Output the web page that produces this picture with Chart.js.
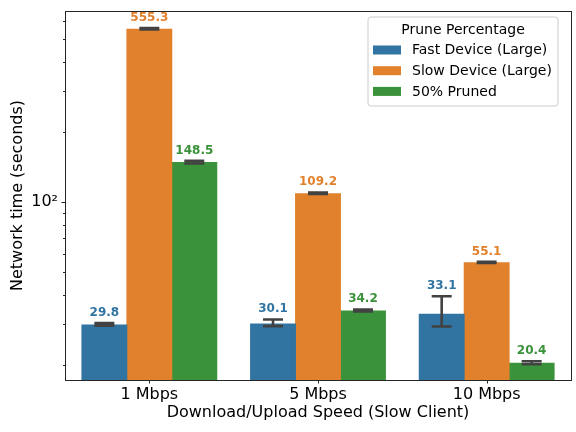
<!DOCTYPE html>
<html><head><meta charset="utf-8">
<script src="https://cdn.jsdelivr.net/npm/chart.js@4"></script>
<style>html,body{margin:0;padding:0;background:#fff}#wrap{width:576px;height:432px}</style>
</head><body><div id="wrap"><canvas id="c" width="576" height="432"></canvas></div>
<script>
const categories = ['1 Mbps', '5 Mbps', '10 Mbps'];
const seriesNames = ['Fast Device (Large)', 'Slow Device (Large)', '50% Pruned'];
const fastVals = [29.8, 30.1, 33.1];
const slowVals = [555.3, 109.2, 55.1];
const prunedVals = [148.5, 34.2, 20.4];
const fastErrLow = [29.4, 29.3, 29.2];
const fastErrHigh = [30.2, 31.3, 39.4];
const slowErrLow = [551.0, 108.4, 54.8];
const slowErrHigh = [559.5, 110.0, 55.4];
const prunedErrLow = [146.5, 33.9, 20.1];
const prunedErrHigh = [150.5, 34.5, 20.7];
const yTickValues = [20,30,40,50,60,70,80,90,100,200,300,400,500,600];
const colors = ['#3274A1', '#E1812C', '#3A923A'];

const FONT = "'DejaVu Sans', sans-serif";
const errLow = [fastErrLow, slowErrLow, prunedErrLow];
const errHigh = [fastErrHigh, slowErrHigh, prunedErrHigh];
const values = [fastVals, slowVals, prunedVals];

const overlay = {
  id: 'overlay',
  afterDatasetsDraw(chart) {
    const ctx = chart.ctx, y = chart.scales.y, x = chart.scales.x, a = chart.chartArea;
    ctx.save();
    ctx.strokeStyle = '#424242'; ctx.lineWidth = 2.6; ctx.lineCap = 'butt';
    for (let i = 0; i < 3; i++) {
      const meta = chart.getDatasetMeta(i);
      meta.data.forEach((el, j) => {
        const yl = y.getPixelForValue(errLow[i][j]);
        const yh = y.getPixelForValue(errHigh[i][j]);
        ctx.beginPath();
        ctx.moveTo(el.x, yl); ctx.lineTo(el.x, yh);
        ctx.moveTo(el.x - 10, yl); ctx.lineTo(el.x + 10, yl);
        ctx.moveTo(el.x - 10, yh); ctx.lineTo(el.x + 10, yh);
        ctx.stroke();
      });
    }
    ctx.font = 'bold 12px ' + FONT;
    ctx.textAlign = 'center'; ctx.textBaseline = 'bottom';
    for (let i = 0; i < 3; i++) {
      const meta = chart.getDatasetMeta(i);
      meta.data.forEach((el, j) => {
        const top = Math.min(el.y, y.getPixelForValue(errHigh[i][j]) - 1.3);
        ctx.fillStyle = colors[i];
        ctx.fillText(values[i][j].toFixed(1), el.x, top - 3);
      });
    }
    ctx.strokeStyle = '#262626'; ctx.lineWidth = 1;
    ctx.strokeRect(Math.round(a.left) + 0.5, Math.round(a.top) + 0.5, Math.round(a.right - a.left), Math.round(a.bottom - a.top));
    ctx.beginPath();
    yTickValues.forEach(v => {
      const py = Math.round(y.getPixelForValue(v)) + 0.5;
      const len = v === 100 ? 3.5 : 2;
      ctx.moveTo(a.left, py); ctx.lineTo(a.left - len, py);
    });
    categories.forEach((c, j) => {
      const px = Math.round(x.getPixelForValue(j)) + 0.5;
      ctx.moveTo(px, a.bottom); ctx.lineTo(px, a.bottom + 3.5);
    });
    ctx.stroke();
    const lx = 368, ly = 17, lw = 190, lh = 89, r = 3;
    ctx.beginPath();
    ctx.moveTo(lx + r, ly); ctx.lineTo(lx + lw - r, ly); ctx.arcTo(lx + lw, ly, lx + lw, ly + r, r);
    ctx.lineTo(lx + lw, ly + lh - r); ctx.arcTo(lx + lw, ly + lh, lx + lw - r, ly + lh, r);
    ctx.lineTo(lx + r, ly + lh); ctx.arcTo(lx, ly + lh, lx, ly + lh - r, r);
    ctx.lineTo(lx, ly + r); ctx.arcTo(lx, ly, lx + r, ly, r);
    ctx.closePath();
    ctx.fillStyle = 'rgba(255,255,255,0.8)'; ctx.fill();
    ctx.strokeStyle = '#cccccc'; ctx.lineWidth = 1; ctx.stroke();
    ctx.font = '14px ' + FONT;
    ctx.fillStyle = '#000'; ctx.textAlign = 'center'; ctx.textBaseline = 'middle';
    ctx.fillText('Prune Percentage', lx + lw / 2, 30);
    ctx.textAlign = 'left';
    seriesNames.forEach((n, i) => {
      const cy = 50 + i * 20.7;
      ctx.fillStyle = colors[i];
      ctx.fillRect(373, cy - 4.5, 28, 9);
      ctx.fillStyle = '#000';
      ctx.fillText(n, 412, cy + 0.5);
    });
    ctx.restore();
  }
};

new Chart(document.getElementById('c'), {
  type: 'bar',
  data: {
    labels: categories,
    datasets: seriesNames.map((n, i) => ({
      label: n, data: values[i], backgroundColor: colors[i], borderWidth: 0,
      inflateAmount: 0, categoryPercentage: 0.8, barPercentage: 1.02
    }))
  },
  options: {
    responsive: false, animation: false, devicePixelRatio: 1,
    layout: { padding: { top: 11, right: 5, left: 0, bottom: 0 } },
    plugins: { legend: { display: false }, tooltip: { enabled: false } },
    scales: {
      x: {
        grid: { display: false, drawTicks: false },
        border: { display: false },
        ticks: { color: '#000', font: { family: FONT, size: 16 }, padding: 5 },
        title: { display: true, text: 'Download/Upload Speed (Slow Client)', color: '#000', font: { family: FONT, size: 16 }, padding: { top: 0, bottom: 10 } },
        afterFit(s) { s.height = 52; s.paddingLeft = 0; s.paddingRight = 0; }
      },
      y: {
        type: 'logarithmic', min: 17.2, max: 662,
        grid: { display: false, drawTicks: false },
        border: { display: false },
        afterBuildTicks(s) { s.ticks = yTickValues.map(v => ({ value: v, major: v === 100 })); },
        ticks: { autoSkip: false, color: '#000', font: { family: FONT, size: 16 }, padding: 7,
          callback: (v) => v === 100 ? '10²' : '' },
        title: { display: true, text: 'Network time (seconds)', color: '#000', font: { family: FONT, size: 16 }, padding: { top: 8, bottom: 0 } },
        afterFit(s) { s.width = 65; s.paddingTop = 0; s.paddingBottom = 0; }
      }
    }
  },
  plugins: [overlay]
});
</script></body></html>
